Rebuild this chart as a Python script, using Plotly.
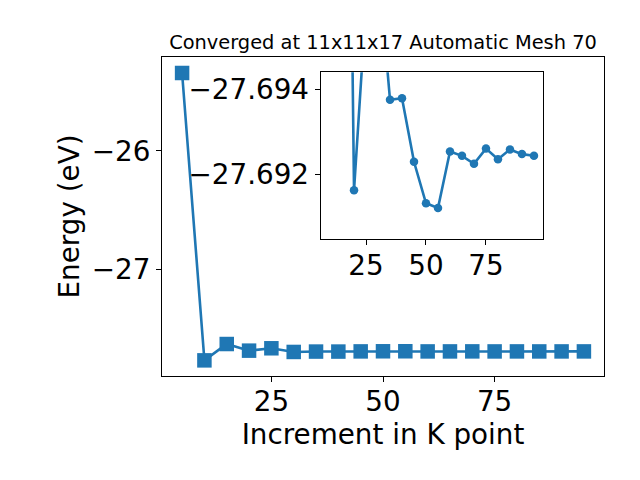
import plotly.graph_objects as go

k_points = [5, 10, 15, 20, 25, 30, 35, 40, 45, 50, 55, 60, 65, 70, 75, 80, 85, 90, 95]
energy_main = [-25.342, -27.768, -27.630, -27.686, -27.666, -27.697, -27.6938, -27.6938,
               -27.6923, -27.6913, -27.6912, -27.6925, -27.6924, -27.6922, -27.6926,
               -27.6924, -27.6926, -27.6925, -27.6924]

inset_k = [10, 15, 20, 25, 30, 35, 40, 45, 50, 55, 60, 65, 70, 75, 80, 85, 90, 95]
inset_energy = [-27.768, -27.715, -27.69162, -27.69601, -27.69702, -27.69375, -27.69379,
                -27.69229, -27.69131, -27.69120, -27.69253, -27.69243, -27.69224,
                -27.69260, -27.69235, -27.69258, -27.69247, -27.69243]

main_xticks = [25, 50, 75]
main_yticks = [-27, -26]
inset_yticks = [-27.694, -27.692]

title_text = "Converged at 11x11x17 Automatic Mesh 70"
x_label = "Increment in K point"
y_label = "Energy (eV)"

C = "#1f77b4"
FONT = "DejaVu Sans"
TICK = 27.8

# page body has an 8px margin, so the figure is 624x464 placed at (8, 8)
W, H = 624, 464

fig = go.Figure()
fig.add_trace(go.Scatter(x=k_points, y=energy_main, mode="lines+markers",
                         line=dict(color=C, width=2.6),
                         marker=dict(symbol="square", size=14.5, color=C, line=dict(width=0)),
                         xaxis="x", yaxis="y", showlegend=False))
fig.add_trace(go.Scatter(x=inset_k, y=inset_energy, mode="lines+markers",
                         line=dict(color=C, width=2.6),
                         marker=dict(symbol="circle", size=8.5, color=C, line=dict(width=0)),
                         xaxis="x2", yaxis="y2", showlegend=False))

ax_common = dict(showgrid=False, zeroline=False, showline=True, linecolor="black",
                 linewidth=1.1, mirror=True, ticks="outside", ticklen=5, tickwidth=1.1,
                 tickcolor="black", automargin=False,
                 tickfont=dict(family=FONT, size=TICK, color="black"))

fig.update_layout(
    width=W, height=H,
    margin=dict(l=154, r=28, t=49, b=96, autoexpand=False),
    paper_bgcolor="white", plot_bgcolor="white",
    font=dict(family=FONT, color="black"),
    title=dict(text=title_text, font=dict(family=FONT, size=19.4, color="black"),
               x=0.5, xref="paper", xanchor="center", y=1 - 34 / H, yref="container",
               yanchor="middle", automargin=False),
    xaxis=dict(domain=[0, 1], range=[0.5, 99.5], tickvals=main_xticks, ticklabelstandoff=-4,
               title=dict(text=x_label, font=dict(family=FONT, size=TICK), standoff=2),
               **ax_common),
    yaxis=dict(domain=[0, 1], range=[-27.900, -25.207], tickvals=main_yticks,
               title=dict(text=y_label, font=dict(family=FONT, size=TICK), standoff=3),
               **ax_common),
    xaxis2=dict(domain=[0.359, 0.8627], range=[6.1, 98.9], tickvals=main_xticks,
                ticklabelstandoff=-4, anchor="y2", **ax_common),
    yaxis2=dict(domain=[0.4285, 0.952], range=[-27.69046, -27.69440], tickvals=inset_yticks,
                tickformat=".3f", anchor="x2", **ax_common),
)

fig.write_html("out.html")
